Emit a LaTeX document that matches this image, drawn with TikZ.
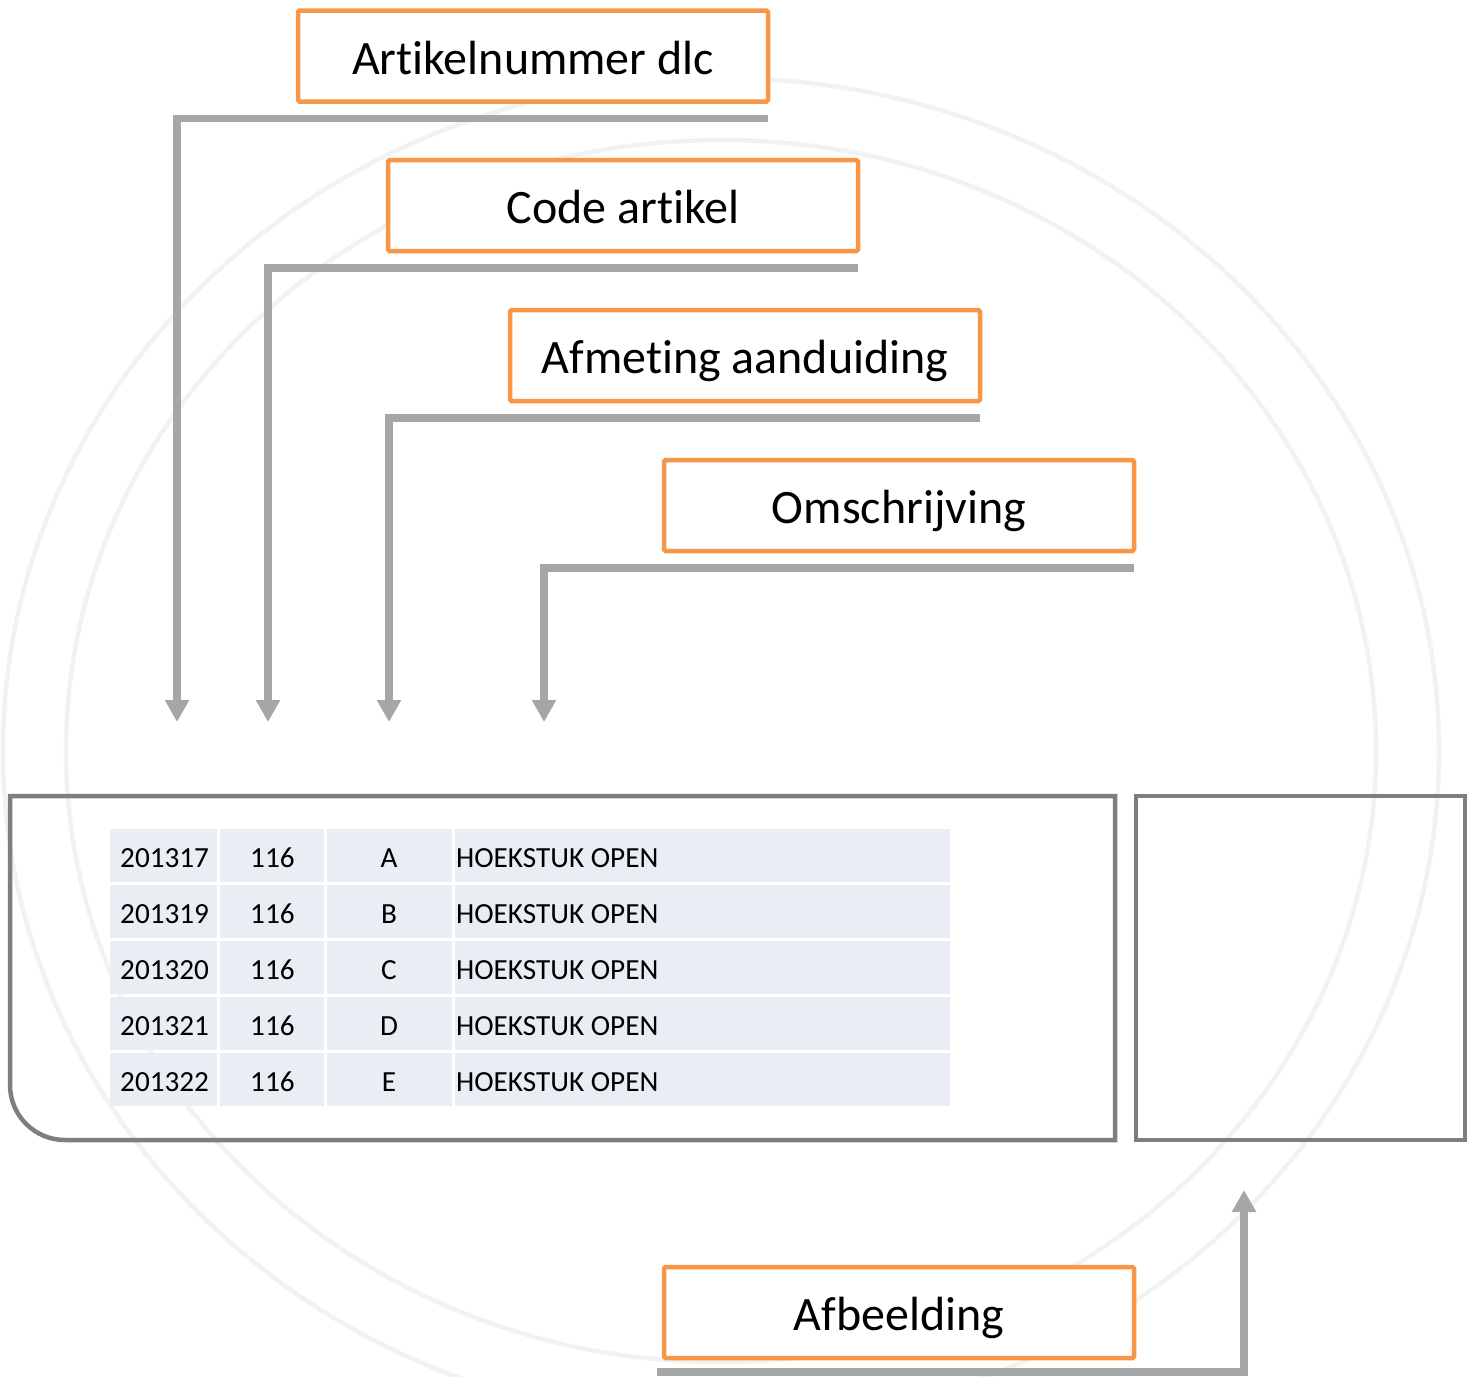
\documentclass[tikz,border=0pt]{standalone}
\usepackage{fontspec}
\setmainfont{Carlito}[Ligatures=NoCommon,RawFeature=-liga]
\usetikzlibrary{arrows.meta}
\definecolor{orng}{HTML}{F79646}
\definecolor{conng}{HTML}{A6A6A6}
\definecolor{pgray}{HTML}{7F7F7F}
\definecolor{ringc}{HTML}{F2F2F2}
\definecolor{cellc}{HTML}{E9EDF4}
\begin{document}
\begin{tikzpicture}[x=1pt,y=-1pt,
  lbl/.style={draw=orng, line width=4.5pt, fill=white, minimum width=470pt, minimum height=91pt,
    inner sep=0pt, outer sep=0pt, font=\fontsize{48}{58}\selectfont, text height=44pt, text depth=8pt,
    rounded corners=1.5pt},
  conn/.style={draw=conng, line width=7.5pt, -{Triangle[length=22pt,width=23pt]}},
  panel/.style={draw=pgray, line width=4.5pt},
  ring/.style={draw=ringc, line width=4.5pt},
  tt/.style={font=\fontsize{29.2}{35}\selectfont, inner sep=0pt, anchor=base west}]
\useasboundingbox (0,0) rectangle (1477,1376);
\begin{scope}
  \clip (0,0) rectangle (1477,1376);
  \draw[ring] (721,751) ellipse [x radius=718pt, y radius=673pt];
  \draw[ring] (721,751) ellipse [x radius=655pt, y radius=611pt];
\end{scope}
% panels
\draw[panel] (10,796) -- (1115,796) -- (1115,1140) -- (65,1140)
  .. controls (34.6,1140) and (10,1115.4) .. (10,1085) -- cycle;
\draw[panel] (1136,796) rectangle (1465,1140);
% table cells
\foreach \r in {0,...,4} {
  \fill[cellc] (110,{829+56*\r}) rectangle (217,{882+56*\r});
  \fill[cellc] (220,{829+56*\r}) rectangle (324,{882+56*\r});
  \fill[cellc] (327,{829+56*\r}) rectangle (452,{882+56*\r});
  \fill[cellc] (455,{829+56*\r}) rectangle (950,{882+56*\r});
}
\foreach \a/\l [count=\i from 0] in {201317/A,201319/B,201320/C,201321/D,201322/E} {
  \node[tt] (n\i) at (120,{867+56*\i}) {\a};
  \node[tt] (c\i) at (250,{867+56*\i}) {116};
  \node[tt,anchor=base] (s\i) at (389,{867+56*\i}) {\l};
  \node[tt] (d\i) at (456,{867+56*\i}) {HOEKSTUK OPEN};
}
% label boxes
\node[lbl] (b1) at (533,56) {Art\kern0pt ikelnummer dlc};
\node[lbl] (b2) at (623,205.5) {Code art\kern0pt ikel};
\node[lbl] (b3) at (745,355.5) {Afmet\kern0pt ing aanduiding};
\node[lbl] (b4) at (899,505.5) {Omschrijving};
\node[lbl] (b5) at (899,1312.5) {Afbeelding};
% arrow targets
\coordinate (t1) at (177,722);
\coordinate (t2) at (268,722);
\coordinate (t3) at (389,722);
\coordinate (t4) at (544,722);
\coordinate (t5) at (1244,1190);
% connectors
\draw[conn] ([yshift=-17pt]b1.south east) -| (t1);
\draw[conn] ([yshift=-17pt]b2.south east) -| (t2);
\draw[conn] ([yshift=-17pt]b3.south east) -| (t3);
\draw[conn] ([yshift=-17pt]b4.south east) -| (t4);
\draw[conn] ([shift={(-7pt,-14pt)}]b5.south west) -| (t5);
\end{tikzpicture}
\end{document}
